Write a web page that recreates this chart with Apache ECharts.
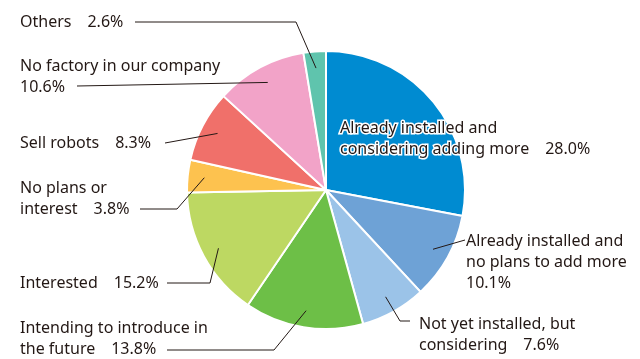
<!DOCTYPE html>
<html>
<head>
<meta charset="utf-8">
<script src="https://cdn.jsdelivr.net/npm/echarts@6/dist/echarts.min.js"></script>
<style>
  html, body { margin: 0; padding: 0; background: #fff; }
  #chart { width: 640px; height: 359px; }
</style>
</head>
<body>
<div id="chart"></div>
<script>
// Category names (a trailing "\n" puts the percentage on its own line)
const categories = [
  'Already installed and\nconsidering adding more',
  'Already installed and\nno plans to add more\n',
  'Not yet installed, but\nconsidering',
  'Intending to introduce in\nthe future',
  'Interested',
  'No plans or\ninterest',
  'Sell robots',
  'No factory in our company\n',
  'Others'
];
const shares = [28.0, 10.1, 7.6, 13.8, 15.2, 3.8, 8.3, 10.6, 2.6];
const colors = ['#008bd1', '#6ea2d6', '#9bc3e8', '#6dbf47', '#bdd862', '#fdc24f', '#f0706a', '#f2a3c8', '#5fc4ad'];

// Where each label sits (left edge, vertical centre) and where its leader line starts
const labelAnchors = [
  { x: 340, y: 139, line: null },
  { x: 466, y: 262, line: [[465, 240], [465, 240]] },
  { x: 419, y: 335, line: [[410, 321], [400, 321]] },
  { x: 20,  y: 339, line: [[167, 350], [274, 350]] },
  { x: 20,  y: 283, line: [[167, 283], [210, 283]] },
  { x: 20,  y: 199, line: [[140, 209], [177, 209]] },
  { x: 20,  y: 143, line: [[165, 143], [165, 143]] },
  { x: 20,  y: 77,  line: [[77, 86], [77, 86]] },
  { x: 20,  y: 22,  line: [[135, 22], [296, 22]] }
];

const center = [326, 190];
const radius = 139;
const total = shares.reduce((a, b) => a + b, 0);

// Point inside a slice, along its middle angle
function innerPoint(i, frac) {
  let before = 0;
  for (let k = 0; k < i; k++) before += shares[k];
  const mid = (before + shares[i] / 2) / total * Math.PI * 2;
  return [center[0] + radius * frac * Math.sin(mid), center[1] - radius * frac * Math.cos(mid)];
}

// Leader lines: from the label, along an optional elbow, into the slice
const leaderLines = [];
labelAnchors.forEach((a, i) => {
  if (!a.line) return;
  leaderLines.push({
    type: 'polyline',
    zlevel: 1,
    z: 100,
    silent: true,
    shape: { points: [a.line[0], a.line[1], innerPoint(i, 0.88)] },
    style: { stroke: '#231815', lineWidth: 1, fill: null }
  });
});

const chart = echarts.init(document.getElementById('chart'), null, { renderer: 'canvas' });

const data = categories.map((name, i) => ({
  name: name,
  value: shares[i],
  itemStyle: { color: colors[i] },
  label: i === 0 ? { textBorderColor: '#fff', textBorderWidth: 3 } : {}
}));

chart.setOption({
  animation: false,
  graphic: { zlevel: 1, z: 100, elements: leaderLines },
  series: [{
    type: 'pie',
    zlevel: 0,
    z: 1,
    center: center,
    radius: radius,
    startAngle: 90,
    clockwise: true,
    data: data,
    silent: true,
    itemStyle: { borderColor: '#fff', borderWidth: 2 },
    label: {
      show: true,
      position: 'outside',
      fontFamily: 'Noto Sans',
      fontSize: 16,
      lineHeight: 21,
      color: '#231815',
      align: 'left',
      overflow: 'none',
      formatter: (p) => {
        const v = p.value.toFixed(1) + '%';
        return p.name.endsWith('\n') ? p.name + v : p.name + '\u3000' + v;
      }
    },
    labelLine: { show: false },
    labelLayout: (params) => {
      const a = labelAnchors[params.dataIndex];
      return { x: a.x, y: a.y, align: 'left', verticalAlign: 'middle' };
    }
  }]
});
</script>
</body>
</html>
